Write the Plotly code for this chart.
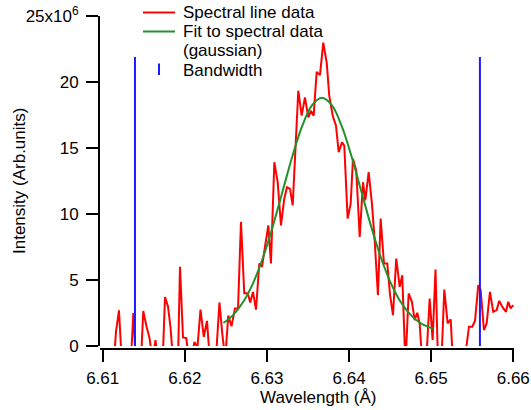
import numpy as np
import plotly.graph_objects as go

# ---------------- data (intensity in units of 1e6) ----------------
wavelength = [6.61122, 6.61162, 6.61198, 6.61235, 6.61278, 6.61332, 6.61373, 6.61414,
              6.61454, 6.61494, 6.61533, 6.61570, 6.61606, 6.61643, 6.61679, 6.61722,
              6.61759, 6.61795, 6.61826, 6.61868, 6.61911, 6.61941, 6.61978, 6.62018,
              6.62057, 6.62118, 6.62154, 6.62191, 6.62231, 6.62270, 6.62310, 6.62347,
              6.62383, 6.62422, 6.62456, 6.62492, 6.62529, 6.62568, 6.62611, 6.62648,
              6.62684, 6.62724, 6.62766, 6.62797, 6.62830, 6.62867, 6.62907, 6.62940,
              6.62976, 6.63017, 6.63049, 6.63090, 6.63131, 6.63171, 6.63211, 6.63244,
              6.63281, 6.63314, 6.63348, 6.63382, 6.63423, 6.63463, 6.63504, 6.63536,
              6.63569, 6.63606, 6.63646, 6.63686, 6.63728, 6.63759, 6.63801, 6.63841,
              6.63874, 6.63914, 6.63942, 6.63983, 6.64020, 6.64048, 6.64088, 6.64130,
              6.64170, 6.64198, 6.64239, 6.64279, 6.64312, 6.64352, 6.64385, 6.64425,
              6.64466, 6.64499, 6.64535, 6.64575, 6.64617, 6.64648, 6.64687, 6.64726,
              6.64766, 6.64799, 6.64831, 6.64860, 6.64894, 6.64937, 6.64982, 6.65018,
              6.65053, 6.65087, 6.65120, 6.65160, 6.65201, 6.65238, 6.65272, 6.65314,
              6.65357, 6.65394, 6.65424, 6.65461, 6.65501, 6.65534, 6.65574, 6.65603,
              6.65643, 6.65676, 6.65716, 6.65756, 6.65798, 6.65829, 6.65871, 6.65911,
              6.65939, 6.65968, 6.66000]
intensity = [-2.5, 1.1, 2.7, -1.5, -2.0, -2.5, 2.5, -2.5,
             -2.8, 2.65, 1.5, 0.6, -1.0, 0.45, -1.5, -2.5,
             3.7, 3.0, 1.4, -2.0, -3.0, 6.0, 0.65, 0.6,
             -1.5, 0.3, -0.1, 2.75, 0.7, 1.9, -1.5, -2.0,
             -0.5, 3.3, 0.96, -1.0, 2.3, 1.5, 2.85, 2.85,
             9.4, 4.0, 4.0, 3.3, 4.1, 2.75, 6.25, 6.0,
             7.5, 9.14, 6.25, 13.92, 12.41, 9.14, 11.16, 12.03,
             11.91, 10.65, 15.0, 19.34, 17.45, 18.83, 17.32, 17.82,
             17.45, 20.77, 20.52, 22.98, 21.47, 18.96, 17.45, 16.69,
             14.68, 15.43, 15.18, 9.65, 10.78, 14.18, 13.29, 8.26,
             12.41, 11.03, 13.17, 10.78, 8.01, 3.85, 9.65, 6.25,
             6.25, 3.9, 2.34, 6.62, 4.48, 5.36, -1.5, 3.98,
             3.35, 1.96, 2.52, 1.71, -1.5, -1.5, 3.6, 0.45,
             5.8, -2.0, -2.0, 4.28, 1.71, 2.02, -2.0, -2.0,
             -2.0, -2.0, -0.3, 1.46, 1.46, 1.91, 4.61, 4.23,
             1.21, 1.71, 4.1, 2.59, 2.72, 3.42, 2.92, 2.59,
             3.35, 2.85, 3.1]

fit_wavelength = [6.6247, 6.6259, 6.6271, 6.6283, 6.6295, 6.6307, 6.6319, 6.6331,
                  6.6343, 6.6355, 6.6367, 6.6379, 6.6391, 6.6403, 6.6415, 6.6427,
                  6.6439, 6.6451, 6.6463, 6.6475, 6.6487, 6.6502]
fit_intensity = [1.74, 2.36, 3.33, 4.75, 6.67, 9.04, 11.71, 14.37,
                 16.67, 18.24, 18.80, 18.24, 16.67, 14.37, 11.71, 9.04,
                 6.67, 4.75, 3.33, 2.36, 1.74, 1.32]

bandwidth_wavelength = [6.61393, 6.65594]
bandwidth_top = 21.9

x_tickvals = [6.61, 6.62, 6.63, 6.64, 6.65, 6.66]
x_ticktext = ["6.61", "6.62", "6.63", "6.64", "6.65", "6.66"]
y_tickvals = [0, 5, 10, 15, 20, 25]
y_ticktext = ["0", "5", "10", "15", "20", "25x10<sup>6</sup>"]

legend_labels = ["Spectral line data", "Fit to spectral data", "(gaussian)", "Bandwidth"]
x_title = "Wavelength (Å)"
y_title = "Intensity (Arb.units)"

SCALE = 1e6
RED = "#ff0000"
GREEN = "#22912a"
BLUE = "#1a1aff"
FONT = "Liberation Sans, Arial, Helvetica, sans-serif"

# ---------------- geometry ----------------
W, H = 531, 410
ML, MR, MT, MB = 100, 17, 16, 61
PW, PH = W - ML - MR, H - MT - MB


def px_x(p):
    return (p - ML) / PW


def px_y(p):
    return (H - MB - p) / PH


fig = go.Figure()

fig.add_trace(go.Scatter(
    x=wavelength, y=np.array(intensity) * SCALE, mode="lines",
    line=dict(color=RED, width=2), name=legend_labels[0], showlegend=False))

fig.add_trace(go.Scatter(
    x=fit_wavelength, y=np.array(fit_intensity) * SCALE, mode="lines",
    line=dict(color=GREEN, width=2, shape="spline"), name=legend_labels[1],
    showlegend=False))

bx, by = [], []
for w in bandwidth_wavelength:
    bx += [w, w, None]
    by += [0, bandwidth_top * SCALE, None]
fig.add_trace(go.Scatter(
    x=bx, y=by, mode="lines", line=dict(color=BLUE, width=2),
    name=legend_labels[3], showlegend=False))

# ---------------- custom legend ----------------
shapes = [
    dict(type="line", xref="paper", yref="paper", x0=px_x(143), x1=px_x(175),
         y0=px_y(12.5), y1=px_y(12.5), line=dict(color=RED, width=2)),
    dict(type="line", xref="paper", yref="paper", x0=px_x(143), x1=px_x(175),
         y0=px_y(31.5), y1=px_y(31.5), line=dict(color=GREEN, width=2)),
    dict(type="line", xref="paper", yref="paper", x0=px_x(159), x1=px_x(159),
         y0=px_y(63.5), y1=px_y(75), line=dict(color=BLUE, width=2)),
]
annotations = []
for lbl, yc in zip(legend_labels, [12.5, 31.5, 51, 70]):
    annotations.append(dict(
        text=lbl, xref="paper", yref="paper", x=px_x(181), y=px_y(yc),
        xanchor="left", yanchor="middle", showarrow=False,
        font=dict(family=FONT, size=17, color="black")))

annotations.append(dict(
    text=x_title, xref="paper", yref="paper", x=px_x(318), y=px_y(398),
    xanchor="center", yanchor="middle", showarrow=False,
    font=dict(family=FONT, size=17, color="black")))
annotations.append(dict(
    text=y_title, xref="paper", yref="paper", x=px_x(19), y=px_y(181),
    xanchor="center", yanchor="middle", textangle=-90, showarrow=False,
    font=dict(family=FONT, size=17, color="black")))

fig.update_layout(
    width=W, height=H,
    margin=dict(l=ML, r=MR, t=MT, b=MB, pad=0, autoexpand=False),
    paper_bgcolor="white", plot_bgcolor="white",
    font=dict(family=FONT, size=17, color="black"),
    showlegend=False,
    shapes=shapes, annotations=annotations,
    xaxis=dict(
        range=[6.60967, 6.66009], anchor="free", position=0, automargin=False,
        tickvals=x_tickvals, ticktext=x_ticktext,
        ticks="outside", ticklen=12, tickwidth=2, tickcolor="black",
        ticklabelstandoff=2,
        showline=True, linewidth=2, linecolor="black",
        showgrid=False, zeroline=False,
        tickfont=dict(family=FONT, size=17, color="black"),
    ),
    yaxis=dict(
        range=[0, 25 * SCALE], domain=[3 / PH, 1], automargin=False,
        tickvals=[v * SCALE for v in y_tickvals], ticktext=y_ticktext,
        ticks="outside", ticklen=12, tickwidth=2, tickcolor="black",
        ticklabelstandoff=4,
        showline=True, linewidth=2, linecolor="black",
        showgrid=False, zeroline=False,
        tickfont=dict(family=FONT, size=17, color="black"),
    ),
)

fig.write_html("out.html")
